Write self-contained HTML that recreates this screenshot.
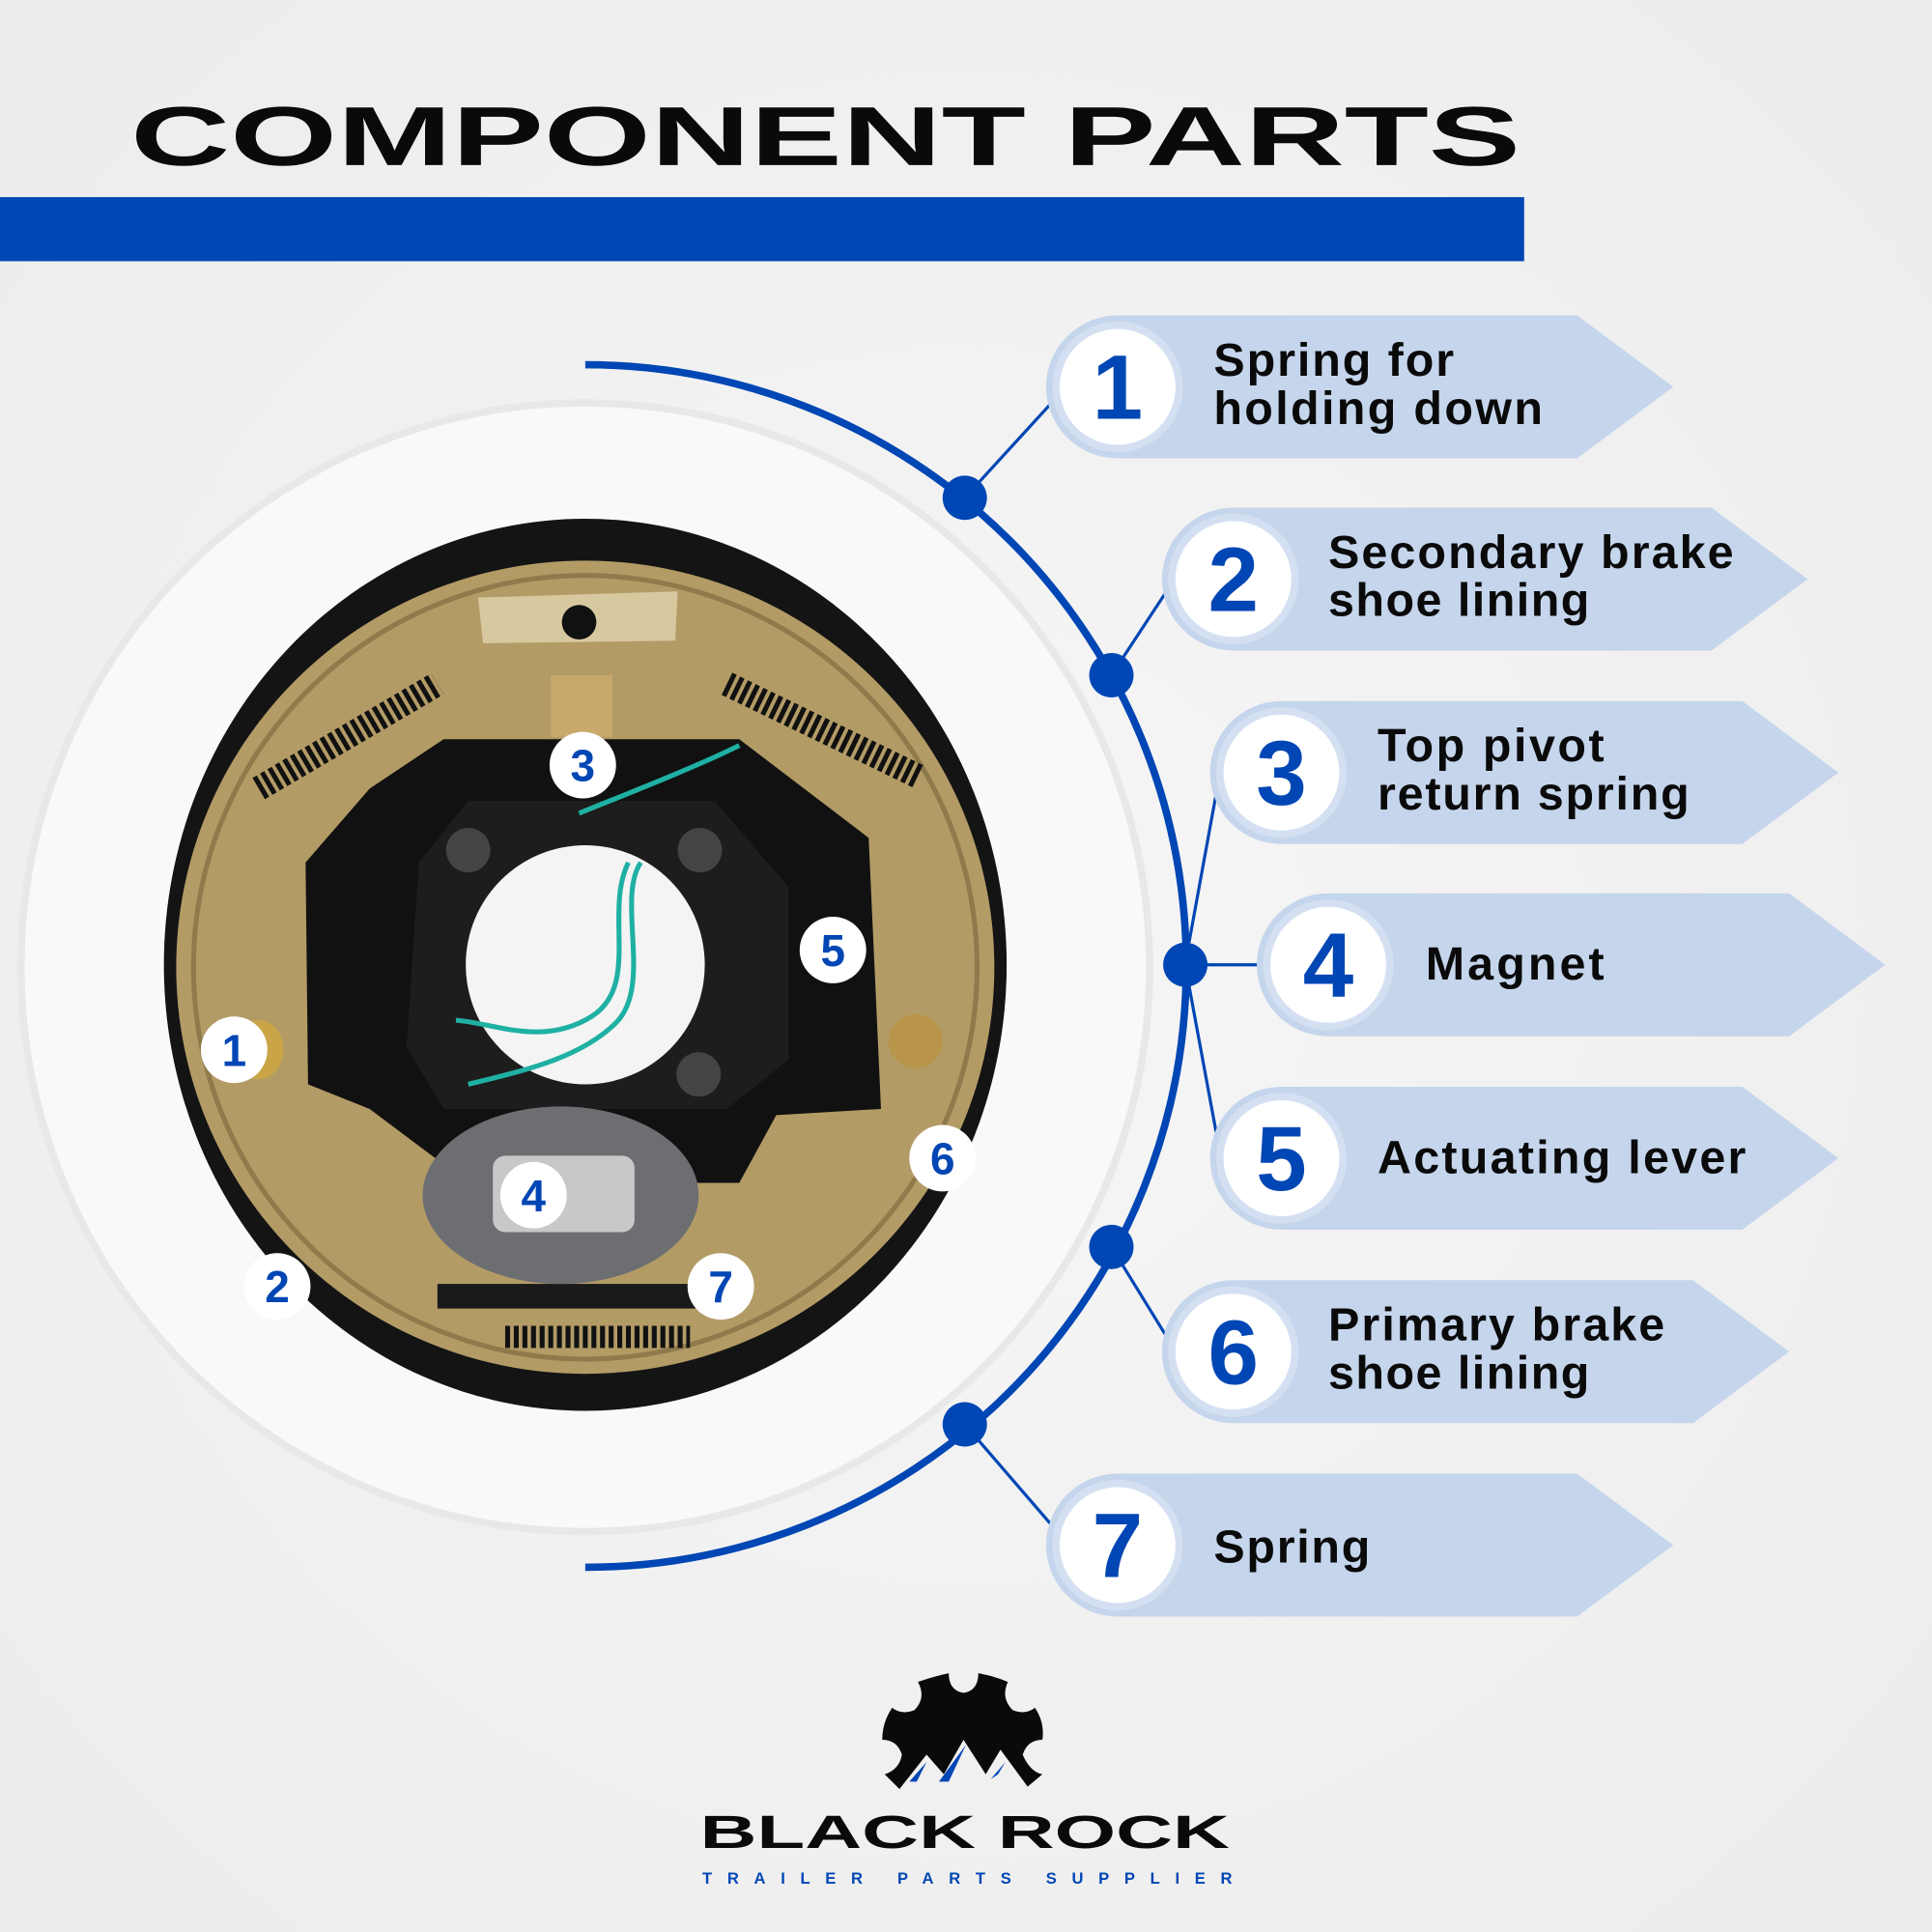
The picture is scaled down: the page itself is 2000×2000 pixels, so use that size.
<!DOCTYPE html>
<html><head><meta charset="utf-8"><style>html,body{margin:0;padding:0;background:#f3f3f3}svg{display:block}</style></head>
<body>
<svg xmlns="http://www.w3.org/2000/svg" width="2000" height="2000" viewBox="0 0 1568 1568">
<defs>
<radialGradient id="bg" cx="0.5" cy="0.5" r="0.7"><stop offset="0" stop-color="#f6f6f6"/><stop offset="1" stop-color="#ececec"/></radialGradient>
</defs>
<rect width="1568" height="1568" fill="url(#bg)"/>
<circle cx="475" cy="785" r="458" fill="#f9f9f9" stroke="#e8e8e8" stroke-width="6"/>
<text x="106" y="134" font-family="Liberation Sans, sans-serif" font-weight="bold" font-size="68" textLength="1128" lengthAdjust="spacingAndGlyphs" fill="#0a0a0a">COMPONENT PARTS</text>
<rect x="0" y="160" width="1237" height="52" fill="#0046b4"/>

<ellipse cx="475" cy="783" rx="342" ry="362" fill="#141414"/>
<ellipse cx="475" cy="785" rx="332" ry="330" fill="#b39b66"/>
<ellipse cx="475" cy="785" rx="318" ry="318" fill="none" stroke="#8f7a4c" stroke-width="4"/>
<path d="M300 640 L360 600 L600 600 L705 680 L715 900 L630 905 L600 960 L380 960 L300 900 L250 880 L248 700 Z" fill="#111"/>
<path d="M340 700 L380 650 L580 650 L640 720 L640 860 L590 900 L360 900 L330 850 Z" fill="#1d1d1d"/>
<circle cx="475" cy="783" r="97" fill="#f4f4f4"/>
<circle cx="380" cy="690" r="18" fill="#444"/><circle cx="568" cy="690" r="18" fill="#444"/><circle cx="567" cy="872" r="18" fill="#444"/>
<path d="M520 700 C500 730 530 800 500 830 C470 860 420 870 380 880" fill="none" stroke="#1fb0a4" stroke-width="4"/>
<path d="M510 700 C490 740 520 800 480 825 C440 850 400 830 370 828" fill="none" stroke="#1fb0a4" stroke-width="4"/>
<path d="M470 660 C520 640 570 620 600 605" fill="none" stroke="#1fb0a4" stroke-width="4"/>
<rect x="447" y="548" width="50" height="50" fill="#c9a96b"/>
<path d="M388 485 L550 480 L548 520 L392 522 Z" fill="#d8c8a0"/>
<circle cx="470" cy="505" r="14" fill="#111"/>
<path d="M210 640 L355 555" stroke="#111" stroke-width="20" stroke-dasharray="4 3"/>
<path d="M590 555 L745 630" stroke="#111" stroke-width="20" stroke-dasharray="4 3"/>
<path d="M410 1085 L560 1085" stroke="#111" stroke-width="18" stroke-dasharray="4 3"/>
<rect x="355" y="1042" width="215" height="20" fill="#1a1a1a"/>
<ellipse cx="455" cy="970" rx="112" ry="72" fill="#6d6e72"/>
<rect x="400" y="938" width="115" height="62" rx="10" fill="#c8c8c8"/>
<circle cx="743" cy="845" r="22" fill="#b8954a"/>
<ellipse cx="210" cy="852" rx="20" ry="24" fill="#c9a548"/>

<g font-family="Liberation Sans, sans-serif" font-weight="bold" font-size="36" fill="#0046b4" text-anchor="middle">
<circle cx="473" cy="621" r="27" fill="#fff"/><text x="473" y="634">3</text>
<circle cx="676" cy="771" r="27" fill="#fff"/><text x="676" y="784">5</text>
<circle cx="190" cy="852" r="27" fill="#fff"/><text x="190" y="865">1</text>
<circle cx="765" cy="940" r="27" fill="#fff"/><text x="765" y="953">6</text>
<circle cx="433" cy="970" r="27" fill="#fff"/><text x="433" y="983">4</text>
<circle cx="225" cy="1044" r="27" fill="#fff"/><text x="225" y="1057">2</text>
<circle cx="585" cy="1044" r="27" fill="#fff"/><text x="585" y="1057">7</text>
</g>

<path d="M475 296 A488 488 0 0 1 475 1272" fill="none" stroke="#0046b4" stroke-width="6"/>
<g stroke="#0046b4" stroke-width="2.5">
<line x1="783" y1="404" x2="858" y2="322"/>
<line x1="902" y1="548" x2="950" y2="475"/>
<line x1="965" y1="765" x2="990" y2="628"/>
<line x1="962" y1="783" x2="1030" y2="783"/>
<line x1="965" y1="800" x2="990" y2="935"/>
<line x1="902" y1="1012" x2="950" y2="1090"/>
<line x1="783" y1="1156" x2="858" y2="1243"/>
</g>
<g fill="#0046b4">
<circle cx="783" cy="404" r="18"/><circle cx="902" cy="548" r="18"/><circle cx="962" cy="783" r="18"/><circle cx="902" cy="1012" r="18"/><circle cx="783" cy="1156" r="18"/>
</g>

<g fill="#c5d5ec">
<path d="M907 256 L1280 256 L1358 314 L1280 372 L907 372 A58 58 0 0 1 907 256 Z"/>
<path d="M1001 412 L1389 412 L1467 470 L1389 528 L1001 528 A58 58 0 0 1 1001 412 Z"/>
<path d="M1040 569 L1414 569 L1492 627 L1414 685 L1040 685 A58 58 0 0 1 1040 569 Z"/>
<path d="M1078 725 L1452 725 L1530 783 L1452 841 L1078 841 A58 58 0 0 1 1078 725 Z"/>
<path d="M1040 882 L1414 882 L1492 940 L1414 998 L1040 998 A58 58 0 0 1 1040 882 Z"/>
<path d="M1001 1039 L1374 1039 L1452 1097 L1374 1155 L1001 1155 A58 58 0 0 1 1001 1039 Z"/>
<path d="M907 1196 L1280 1196 L1358 1254 L1280 1312 L907 1312 A58 58 0 0 1 907 1196 Z"/>
</g>
<g fill="#fff" stroke="#d4e0f2" stroke-width="6">
<circle cx="907" cy="314" r="50"/><circle cx="1001" cy="470" r="50"/><circle cx="1040" cy="627" r="50"/><circle cx="1078" cy="783" r="50"/><circle cx="1040" cy="940" r="50"/><circle cx="1001" cy="1097" r="50"/><circle cx="907" cy="1254" r="50"/>
</g>
<g font-family="Liberation Sans, sans-serif" font-weight="bold" font-size="74" fill="#0046b4" text-anchor="middle">
<text x="907" y="340">1</text><text x="1001" y="496">2</text><text x="1040" y="653">3</text><text x="1078" y="809">4</text><text x="1040" y="966">5</text><text x="1001" y="1123">6</text><text x="907" y="1280">7</text>
</g>
<g font-family="Liberation Sans, sans-serif" font-weight="bold" font-size="38" fill="#0a0a0a" lengthAdjust="spacingAndGlyphs">
<text x="985" y="305" textLength="195">Spring for</text><text x="985" y="344" textLength="267">holding down</text>
<text x="1078" y="461" textLength="329">Secondary brake</text><text x="1078" y="500" textLength="212">shoe lining</text>
<text x="1118" y="618" textLength="184">Top pivot</text><text x="1118" y="657" textLength="253">return spring</text>
<text x="1157" y="795" textLength="145">Magnet</text>
<text x="1118" y="952" textLength="299">Actuating lever</text>
<text x="1078" y="1088" textLength="273">Primary brake</text><text x="1078" y="1127" textLength="212">shoe lining</text>
<text x="985" y="1268" textLength="127">Spring</text>
</g>

<path d="M745 1365 Q760 1360 770 1358 Q770 1372 782 1374 Q794 1372 794 1358 Q806 1360 818 1365 Q812 1378 822 1388 Q832 1392 840 1386 Q848 1398 846 1412 Q834 1412 830 1424 Q836 1438 846 1440 L834 1450 L812 1420 L800 1440 L782 1412 L766 1440 L752 1424 L730 1452 L718 1440 Q730 1436 732 1424 Q728 1412 716 1412 Q716 1398 724 1386 Q732 1392 742 1388 Q752 1378 745 1365 Z" fill="#0a0a0a"/>
<path d="M738 1446 L752 1430 L744 1446 Z M762 1446 L784 1416 L770 1446 Z M804 1444 L816 1430 L810 1440 Z" fill="#0046b4"/>
<text x="568" y="1500" font-family="Liberation Sans, sans-serif" font-weight="bold" font-size="38" textLength="430" lengthAdjust="spacingAndGlyphs" fill="#0a0a0a">BLACK ROCK</text>
<text x="570" y="1529" font-family="Liberation Sans, sans-serif" font-weight="bold" font-size="13" textLength="430" lengthAdjust="spacing" fill="#0046b4">TRAILER PARTS SUPPLIER</text>
</svg>
</body></html>
